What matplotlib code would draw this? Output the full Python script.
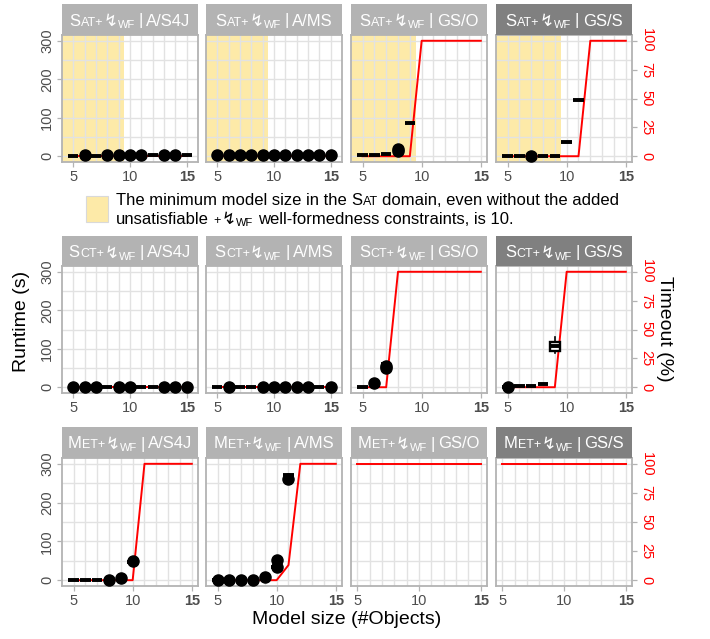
#%%############################################################################
# Runtime and timeout share vs model size, one panel per domain and generator.
###############################################################################
import matplotlib
matplotlib.use('Agg')
import matplotlib.pyplot as plt
import numpy as np
from matplotlib.patches import Rectangle

#%%############################################################################
# Data.
###############################################################################
sizes = [5, 6, 7, 8, 9, 10, 11, 12, 13, 14, 15]
domains = ['Sat', 'Sct', 'Met']
solvers = ['A/S4J', 'A/MS', 'GS/O', 'GS/S']

# Median runtime (s) per model size, None where nothing finished.
sat_median = {
    'A/S4J': [1, 1, 1, 1, 1, 1, 1, 2, 2, 2, 4],
    'A/MS':  [1, 1, 1, 1, 1, 1, 1, 1, 1, 2, 2],
    'GS/O':  [3, 3, 7, 17, 87, None, None, None, None, None, None],
    'GS/S':  [1, 1, 1, 1, 1, 38, 147, None, None, None, None],
}
sct_median = {
    'A/S4J': [0.5, 0.5, 0.5, 0.5, 0.5, 0.5, 0.5, 0.5, 0.5, 0.5, 0.5],
    'A/MS':  [0.5, 0.5, 0.5, 0.5, 0.5, 0.5, 0.5, 0.5, 0.5, 0.5, 0.5],
    'GS/O':  [1, 5, 60, None, None, None, None, None, None, None, None],
    'GS/S':  [0, 2, 3, 8, 107, None, None, None, None, None, None],
}
met_median = {
    'A/S4J': [0, 0, 0, 0, 4, 47, None, None, None, None, None],
    'A/MS':  [0, 0, 0, 0, 5, 35, 270, None, None, None, None],
    'GS/O':  [None, None, None, None, None, None, None, None, None, None, None],
    'GS/S':  [None, None, None, None, None, None, None, None, None, None, None],
}

# Outlying runs (s) per model size.
sat_fliers = {
    'A/S4J': {6: [2], 8: [2], 9: [3], 10: [2], 11: [2], 13: [2], 14: [3]},
    'A/MS':  {5: [2], 6: [2], 7: [2], 8: [2], 9: [2], 10: [2], 11: [2],
              12: [2], 13: [3], 14: [3], 15: [4]},
    'GS/O':  {8: [14, 19]},
    'GS/S':  {7: [0]},
}
sct_fliers = {
    'A/S4J': {5: [1], 6: [1], 7: [1], 9: [1], 10: [1], 13: [1], 14: [1], 15: [1]},
    'A/MS':  {6: [1], 9: [1], 10: [1], 11: [1], 12: [1], 13: [1], 15: [1]},
    'GS/O':  {6: [10], 7: [50, 55]},
    'GS/S':  {5: [0]},
}
met_fliers = {
    'A/S4J': {8: [0], 9: [6], 10: [49]},
    'A/MS':  {5: [0], 6: [0], 7: [0], 8: [0], 9: [7], 10: [52, 35], 11: [262]},
    'GS/O':  {},
    'GS/S':  {},
}

# Boxes with a visible spread: (lower whisker, q1, q3, upper whisker).
sct_spread = {'GS/S': {9: (89, 95, 117, 130)}}

# Share of runs that timed out (%) per model size.
sat_timeout = {
    'A/S4J': [0, 0, 0, 0, 0, 0, 0, 0, 0, 0, 0],
    'A/MS':  [0, 0, 0, 0, 0, 0, 0, 0, 0, 0, 0],
    'GS/O':  [0, 0, 0, 0, 0, 100, 100, 100, 100, 100, 100],
    'GS/S':  [0, 0, 0, 0, 0, 0, 0, 100, 100, 100, 100],
}
sct_timeout = {
    'A/S4J': [0, 0, 0, 0, 0, 0, 0, 0, 0, 0, 0],
    'A/MS':  [0, 0, 0, 0, 0, 0, 0, 0, 0, 0, 0],
    'GS/O':  [0, 0, 0, 100, 100, 100, 100, 100, 100, 100, 100],
    'GS/S':  [0, 0, 0, 0, 0, 100, 100, 100, 100, 100, 100],
}
met_timeout = {
    'A/S4J': [0, 0, 0, 0, 0, 0, 100, 100, 100, 100, 100],
    'A/MS':  [0, 0, 0, 0, 0, 0, 13, 100, 100, 100, 100],
    'GS/O':  [100, 100, 100, 100, 100, 100, 100, 100, 100, 100, 100],
    'GS/S':  [100, 100, 100, 100, 100, 100, 100, 100, 100, 100, 100],
}

sat_min_size = 10    # smallest satisfiable model in the Sat domain
timeout_s = 300      # runtime cap, = 100 % on the right axis

medians = {'Sat': sat_median, 'Sct': sct_median, 'Met': met_median}
fliers = {'Sat': sat_fliers, 'Sct': sct_fliers, 'Met': met_fliers}
spreads = {'Sat': {}, 'Sct': sct_spread, 'Met': {}}
timeouts = {'Sat': sat_timeout, 'Sct': sct_timeout, 'Met': met_timeout}

#%%############################################################################
# Layout (pixels).
###############################################################################
W, H = 710, 639
plt.rcParams['font.family'] = ['Liberation Sans', 'DejaVu Sans']

colX = [(62, 198), (206, 342), (351, 487), (496, 632)]
stripTop = [4, 236, 427]
panelY = [(35, 162), (266, 393), (458, 586)]

gridCol = '#e2e2e2'
borderCol = '#b3b3b3'
tickTextCol = '#4d4d4d'
yellow = '#fdeaa8'

fig = plt.figure(figsize=(W / 100, H / 100), dpi=100)
renderer = fig.canvas.get_renderer()


def px_rect(x0, y0, x1, y1):
    return [x0 / W, 1 - y1 / H, (x1 - x0) / W, (y1 - y0) / H]


def text_width(s, size):
    # measured between bars so that spaces keep their advance
    t = fig.text(0, 0, '|' + s + '|', fontsize=size)
    w = t.get_window_extent(renderer).width
    t.remove()
    t = fig.text(0, 0, '||', fontsize=size)
    w -= t.get_window_extent(renderer).width
    t.remove()
    return w


def rich_text(x, y, pieces, color, align='center'):
    # pieces: (text, size, baseline shift px, gap before px)
    widths = [text_width(s, size) for s, size, dy, gap in pieces]
    total = sum(widths) + sum(p[3] for p in pieces)
    cur = x - total / 2 if align == 'center' else x
    for (s, size, dy, gap), w in zip(pieces, widths):
        cur += gap
        fig.text(cur / W, 1 - (y + dy) / H, s, fontsize=size, color=color,
                 va='baseline', ha='left')
        cur += w


#%%############################################################################
# Panels.
###############################################################################
for r, dom in enumerate(domains):
    for c, solver in enumerate(solvers):
        x0, x1 = colX[c]
        y0, y1 = panelY[r]
        ax = fig.add_axes(px_rect(x0, y0, x1, y1))

        med = medians[dom][solver]
        boxPos = [s for s, m in zip(sizes, med) if m is not None]
        if boxPos:
            lo = min(boxPos) - 0.45
            hi = max(max(boxPos) + 0.45, sizes[-1])
        else:
            lo, hi = sizes[0], sizes[-1]
        pad = 0.05 * (hi - lo)
        ax.set_xlim(lo - pad, hi + pad)
        ax.set_ylim(-0.05 * timeout_s, 1.05 * timeout_s)

        # grid and frame
        ax.set_axisbelow(True)
        ax.set_xticks([5, 10, 15])
        ax.set_xticks(sizes, minor=True)
        ax.set_yticks([0, 100, 200, 300])
        ax.set_yticks([50, 150, 250], minor=True)
        ax.grid(True, which='both', color=gridCol, linewidth=1.0)
        for sp in ax.spines.values():
            sp.set_color(borderCol)
            sp.set_linewidth(1.3)
        ax.tick_params(which='minor', length=0)
        ax.tick_params(which='major', color=borderCol, length=3.5, width=0.9,
                       labelcolor=tickTextCol, labelsize=10.5, pad=2)
        ax.set_xticklabels(['5', '10', '15'])
        ax.get_xticklabels()[2].set_fontweight('bold')
        if c == 0:
            ax.tick_params(axis='y', labelrotation=90)
            for lbl in ax.get_yticklabels():
                lbl.set_va('center')
        else:
            ax.tick_params(axis='y', left=False, labelleft=False)

        if dom == 'Sat':
            ax.axvspan(lo - pad, sat_min_size - 0.5, color=yellow, lw=0, zorder=0.1)

        # timeout share on the runtime scale
        tout = np.array(timeouts[dom][solver], dtype=float)
        ax.plot(sizes, tout / 100 * timeout_s, color='red', lw=1.4, zorder=2)

        # runtime boxes
        stats = []
        for s, m in zip(sizes, med):
            if m is None:
                continue
            wl, q1, q3, wh = spreads[dom].get(solver, {}).get(s, (m, m, m, m))
            stats.append(dict(med=m, q1=q1, q3=q3, whislo=wl, whishi=wh,
                              fliers=fliers[dom][solver].get(s, [])))
        if stats:
            ax.bxp(stats, positions=boxPos, widths=0.9, showcaps=False,
                   patch_artist=True, manage_ticks=False, zorder=3,
                   boxprops=dict(facecolor='white', edgecolor='black', linewidth=1.7),
                   medianprops=dict(color='black', linewidth=2.8),
                   whiskerprops=dict(color='black', linewidth=1.2),
                   flierprops=dict(marker='o', markerfacecolor='black',
                                   markeredgecolor='black', markersize=8))

        if c == 3:
            sec = ax.secondary_yaxis('right', functions=(lambda v: v / timeout_s * 100,
                                                         lambda p: p / 100 * timeout_s))
            sec.set_yticks([0, 25, 50, 75, 100])
            sec.tick_params(color=borderCol, length=3.5, width=0.9, labelcolor='red',
                            labelsize=10.5, pad=2, labelrotation=-90)
            for lbl in sec.get_yticklabels():
                lbl.set_va('center')
            sec.spines['right'].set_visible(False)

        # facet strip
        sTop = stripTop[r]
        fig.patches.append(Rectangle((x0 / W, 1 - y0 / H), (x1 - x0) / W,
                                     (y0 - sTop) / H, transform=fig.transFigure,
                                     facecolor='#808080' if c == 3 else '#b3b3b3',
                                     edgecolor='none'))
        rich_text((x0 + x1) / 2, sTop + 21.5,
                  [(dom[0], 12, 0, 0), (dom[1:].upper() + '+', 9, 0, 0.5),
                   ('\u21af', 12, 0, 0), ('WF', 8, 2.5, 0.5),
                   ('|', 12, 0, 3.5), (solver, 12, 0, 3.5)], 'white')

#%%############################################################################
# Legend for the shaded region.
###############################################################################
fig.patches.append(Rectangle((86 / W, 1 - 222 / H), 22 / W, 26 / H,
                             transform=fig.transFigure, facecolor=yellow,
                             edgecolor='#d9d9d9', lw=0.8))
sp12 = text_width(' ', 12)
rich_text(116, 205, [('The minimum model size in the', 12, 0, 0), ('S', 12, 0, sp12),
                     ('AT', 9, 0, 0.3), ('domain, even without the added', 12, 0, sp12)],
          'black', align='left')
rich_text(116, 224, [('unsatisfiable', 12, 0, 0), ('+', 9, 0, sp12),
                     ('\u21af', 12, 0, 0.5), ('WF', 8, 2.5, 0.5),
                     ('well-formedness constraints, is 10.', 12, 0, sp12)],
          'black', align='left')

#%%############################################################################
# Axis titles.
###############################################################################
fig.text(22 / W, 1 - 321 / H, 'Runtime (s)', rotation=90, fontsize=14,
         ha='center', va='center')
fig.text(664 / W, 1 - 329 / H, 'Timeout (%)', rotation=-90, fontsize=14,
         ha='center', va='center')
fig.text(347 / W, 1 - 620 / H, 'Model size (#Objects)', fontsize=14,
         ha='center', va='center')

fig.savefig('out.png', dpi=100)
